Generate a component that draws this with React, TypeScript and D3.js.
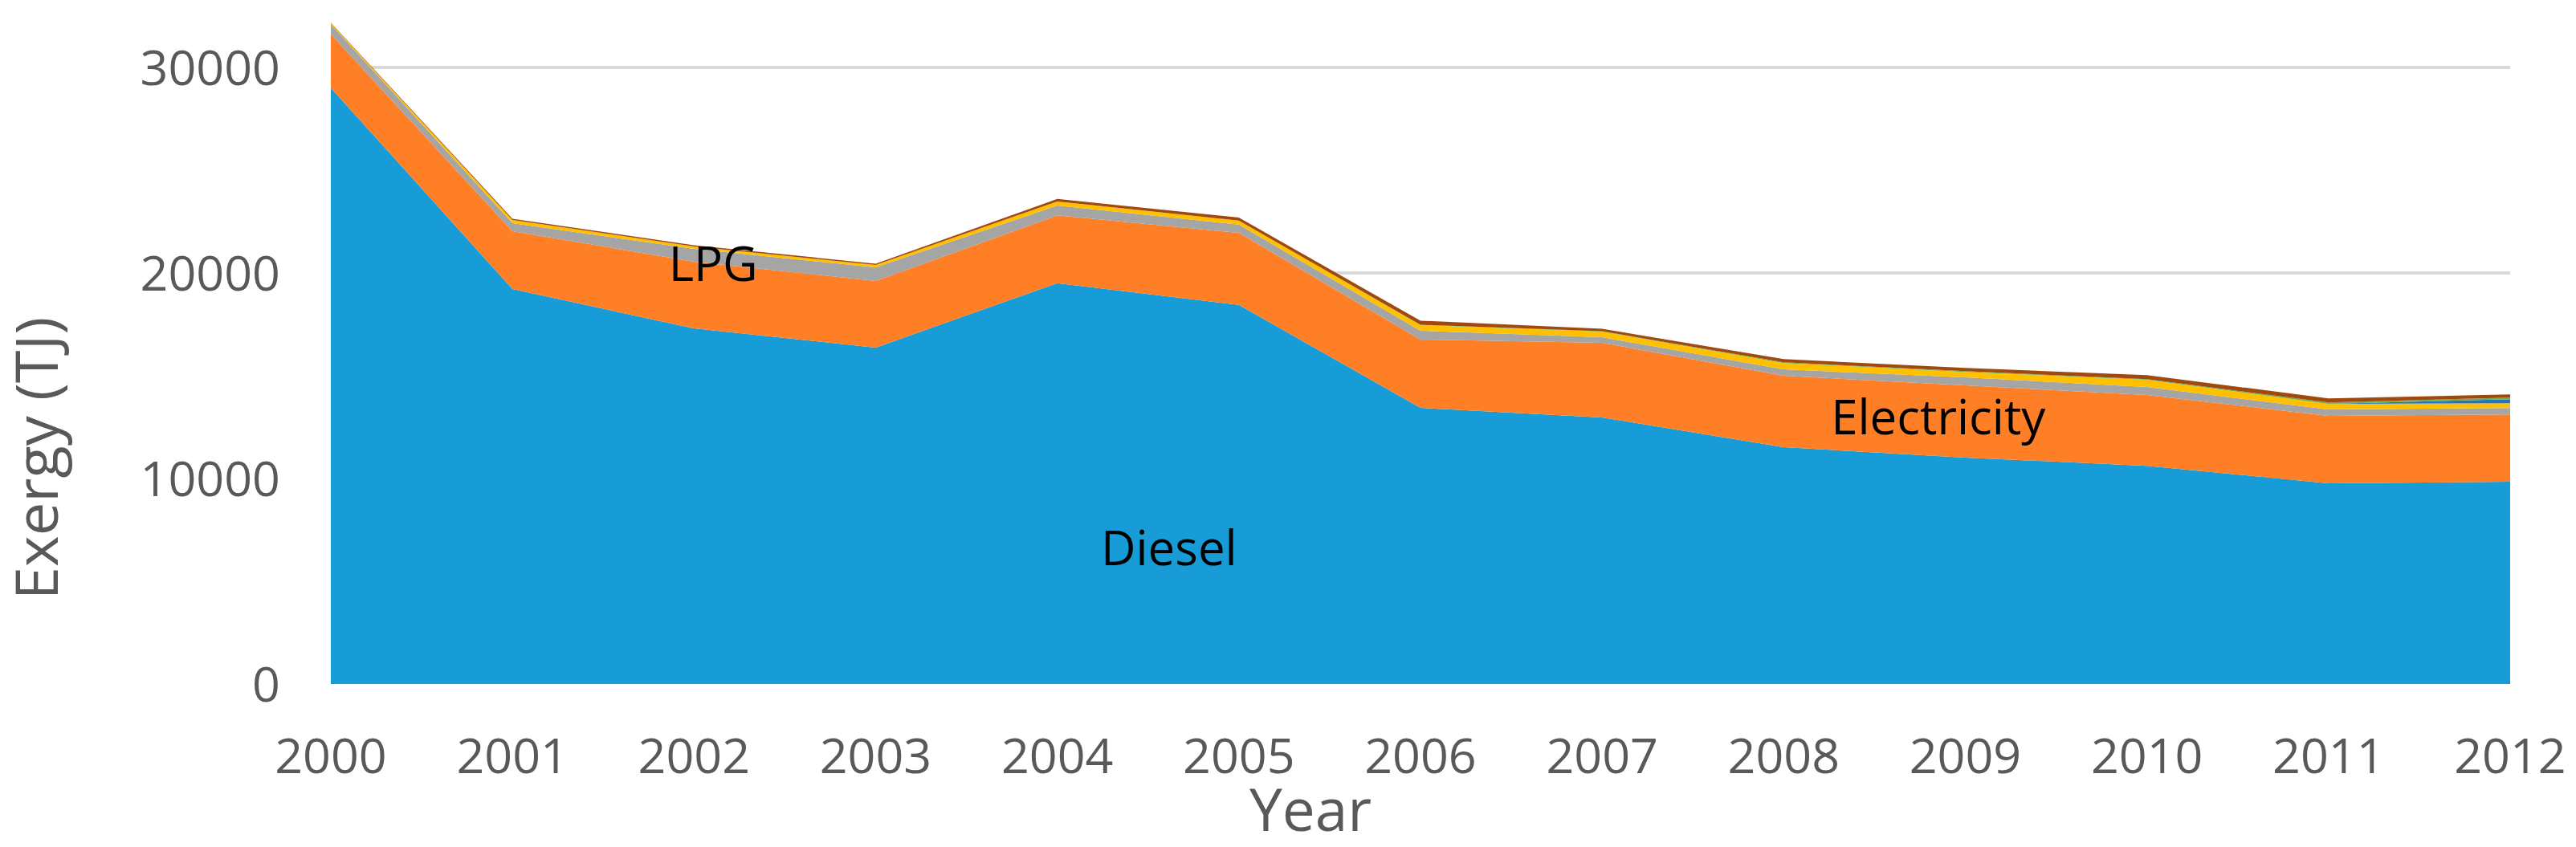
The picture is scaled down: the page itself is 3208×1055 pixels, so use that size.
import React, { useEffect, useMemo } from 'react';
import * as d3 from 'd3';

const YEARS = [2000, 2001, 2002, 2003, 2004, 2005, 2006, 2007, 2008, 2009, 2010, 2011, 2012];
const DIESEL = [29000, 19220, 17300, 16370, 19500, 18450, 13440, 12970, 11520, 11020, 10620, 9770, 9840];
const ELECTRICITY = [2620, 2810, 3250, 3240, 3300, 3500, 3320, 3630, 3480, 3510, 3440, 3280, 3280];
const LPG = [480, 390, 620, 660, 480, 400, 430, 275, 310, 390, 390, 310, 310];
const GASOLINE = [60, 160, 120, 120, 200, 200, 270, 270, 310, 270, 350, 270, 230];
const KEROSENE = [0, 0, 0, 0, 0, 0, 0, 0, 0, 0, 0, 0, 200];
const NATURAL_GAS = [0, 0, 0, 0, 0, 0, 20, 20, 30, 30, 30, 70, 80];
const FUEL_OIL = [20, 60, 60, 60, 120, 150, 200, 120, 160, 160, 200, 200, 150];

const SERIES = [
  { key: 'Diesel', values: DIESEL, color: '#189cd8' },
  { key: 'Electricity', values: ELECTRICITY, color: '#fe7f26' },
  { key: 'LPG', values: LPG, color: '#a5a5a5' },
  { key: 'Gasoline', values: GASOLINE, color: '#ffc000' },
  { key: 'Kerosene', values: KEROSENE, color: '#2672c2' },
  { key: 'Natural gas', values: NATURAL_GAS, color: '#70ad47' },
  { key: 'Fuel oil', values: FUEL_OIL, color: '#a0480e' },
];

const Y_TICKS = [0, 10000, 20000, 30000];
const GRID_TICKS = [10000, 20000, 30000];

const LABELS = [
  { text: 'Diesel', year: 2004.24, value: 5800 },
  { text: 'Electricity', year: 2008.26, value: 12150 },
  { text: 'LPG', year: 2001.86, value: 19600 },
];

const W = 3208;
const H = 1055;
const FONT = '"Open Sans", "Noto Sans", sans-serif';

export default function App() {
  useEffect(() => {
    document.body.style.margin = '0';
  }, []);

  const x = d3.scaleLinear().domain([2000, 2012]).range([412, 3126]);
  const y = d3.scaleLinear().domain([0, 30000]).range([852, 84]);

  const stacked = useMemo(() => {
    const rows = YEARS.map((yr, i) => {
      const r: Record<string, number> = { year: yr };
      SERIES.forEach(s => (r[s.key] = s.values[i]));
      return r;
    });
    return d3.stack<Record<string, number>>().keys(SERIES.map(s => s.key))(rows);
  }, []);

  const area = d3
    .area<d3.SeriesPoint<Record<string, number>>>()
    .x(d => x(d.data.year))
    .y0(d => y(d[0]))
    .y1(d => y(d[1]));

  return (
    <svg width={W} height={H} style={{ display: 'block', background: '#fff' }}>
      {/* gridlines */}
      {GRID_TICKS.map(t => (
        <line key={t} x1={x(2000)} x2={x(2012)} y1={y(t)} y2={y(t)} stroke="#d9d9d9" strokeWidth={4} />
      ))}

      {/* stacked areas */}
      {stacked.map((layer, i) => (
        <path key={layer.key} d={area(layer) || ''} fill={SERIES[i].color} />
      ))}

      {/* y tick labels */}
      {Y_TICKS.map(t => (
        <text key={t} x={349} y={y(t)} dy="0.36em" textAnchor="end" fontFamily={FONT} fontSize={61} fill="#595959">
          {t}
        </text>
      ))}

      {/* x tick labels */}
      {YEARS.map(yr => (
        <text key={yr} x={x(yr)} y={963} textAnchor="middle" fontFamily={FONT} fontSize={61} fill="#595959">
          {yr}
        </text>
      ))}

      {/* series labels */}
      {LABELS.map(l => (
        <text key={l.text} x={x(l.year)} y={y(l.value)} fontFamily={FONT} fontSize={60} fill="#000">
          {l.text}
        </text>
      ))}

      {/* axis titles */}
      <text x={1632} y={1035} textAnchor="middle" fontFamily={FONT} fontSize={73} fill="#595959">
        Year
      </text>
      <text
        transform="translate(72, 571) rotate(-90)"
        textAnchor="middle"
        fontFamily={FONT}
        fontSize={74}
        fill="#595959"
      >
        Exergy (TJ)
      </text>
    </svg>
  );
}
